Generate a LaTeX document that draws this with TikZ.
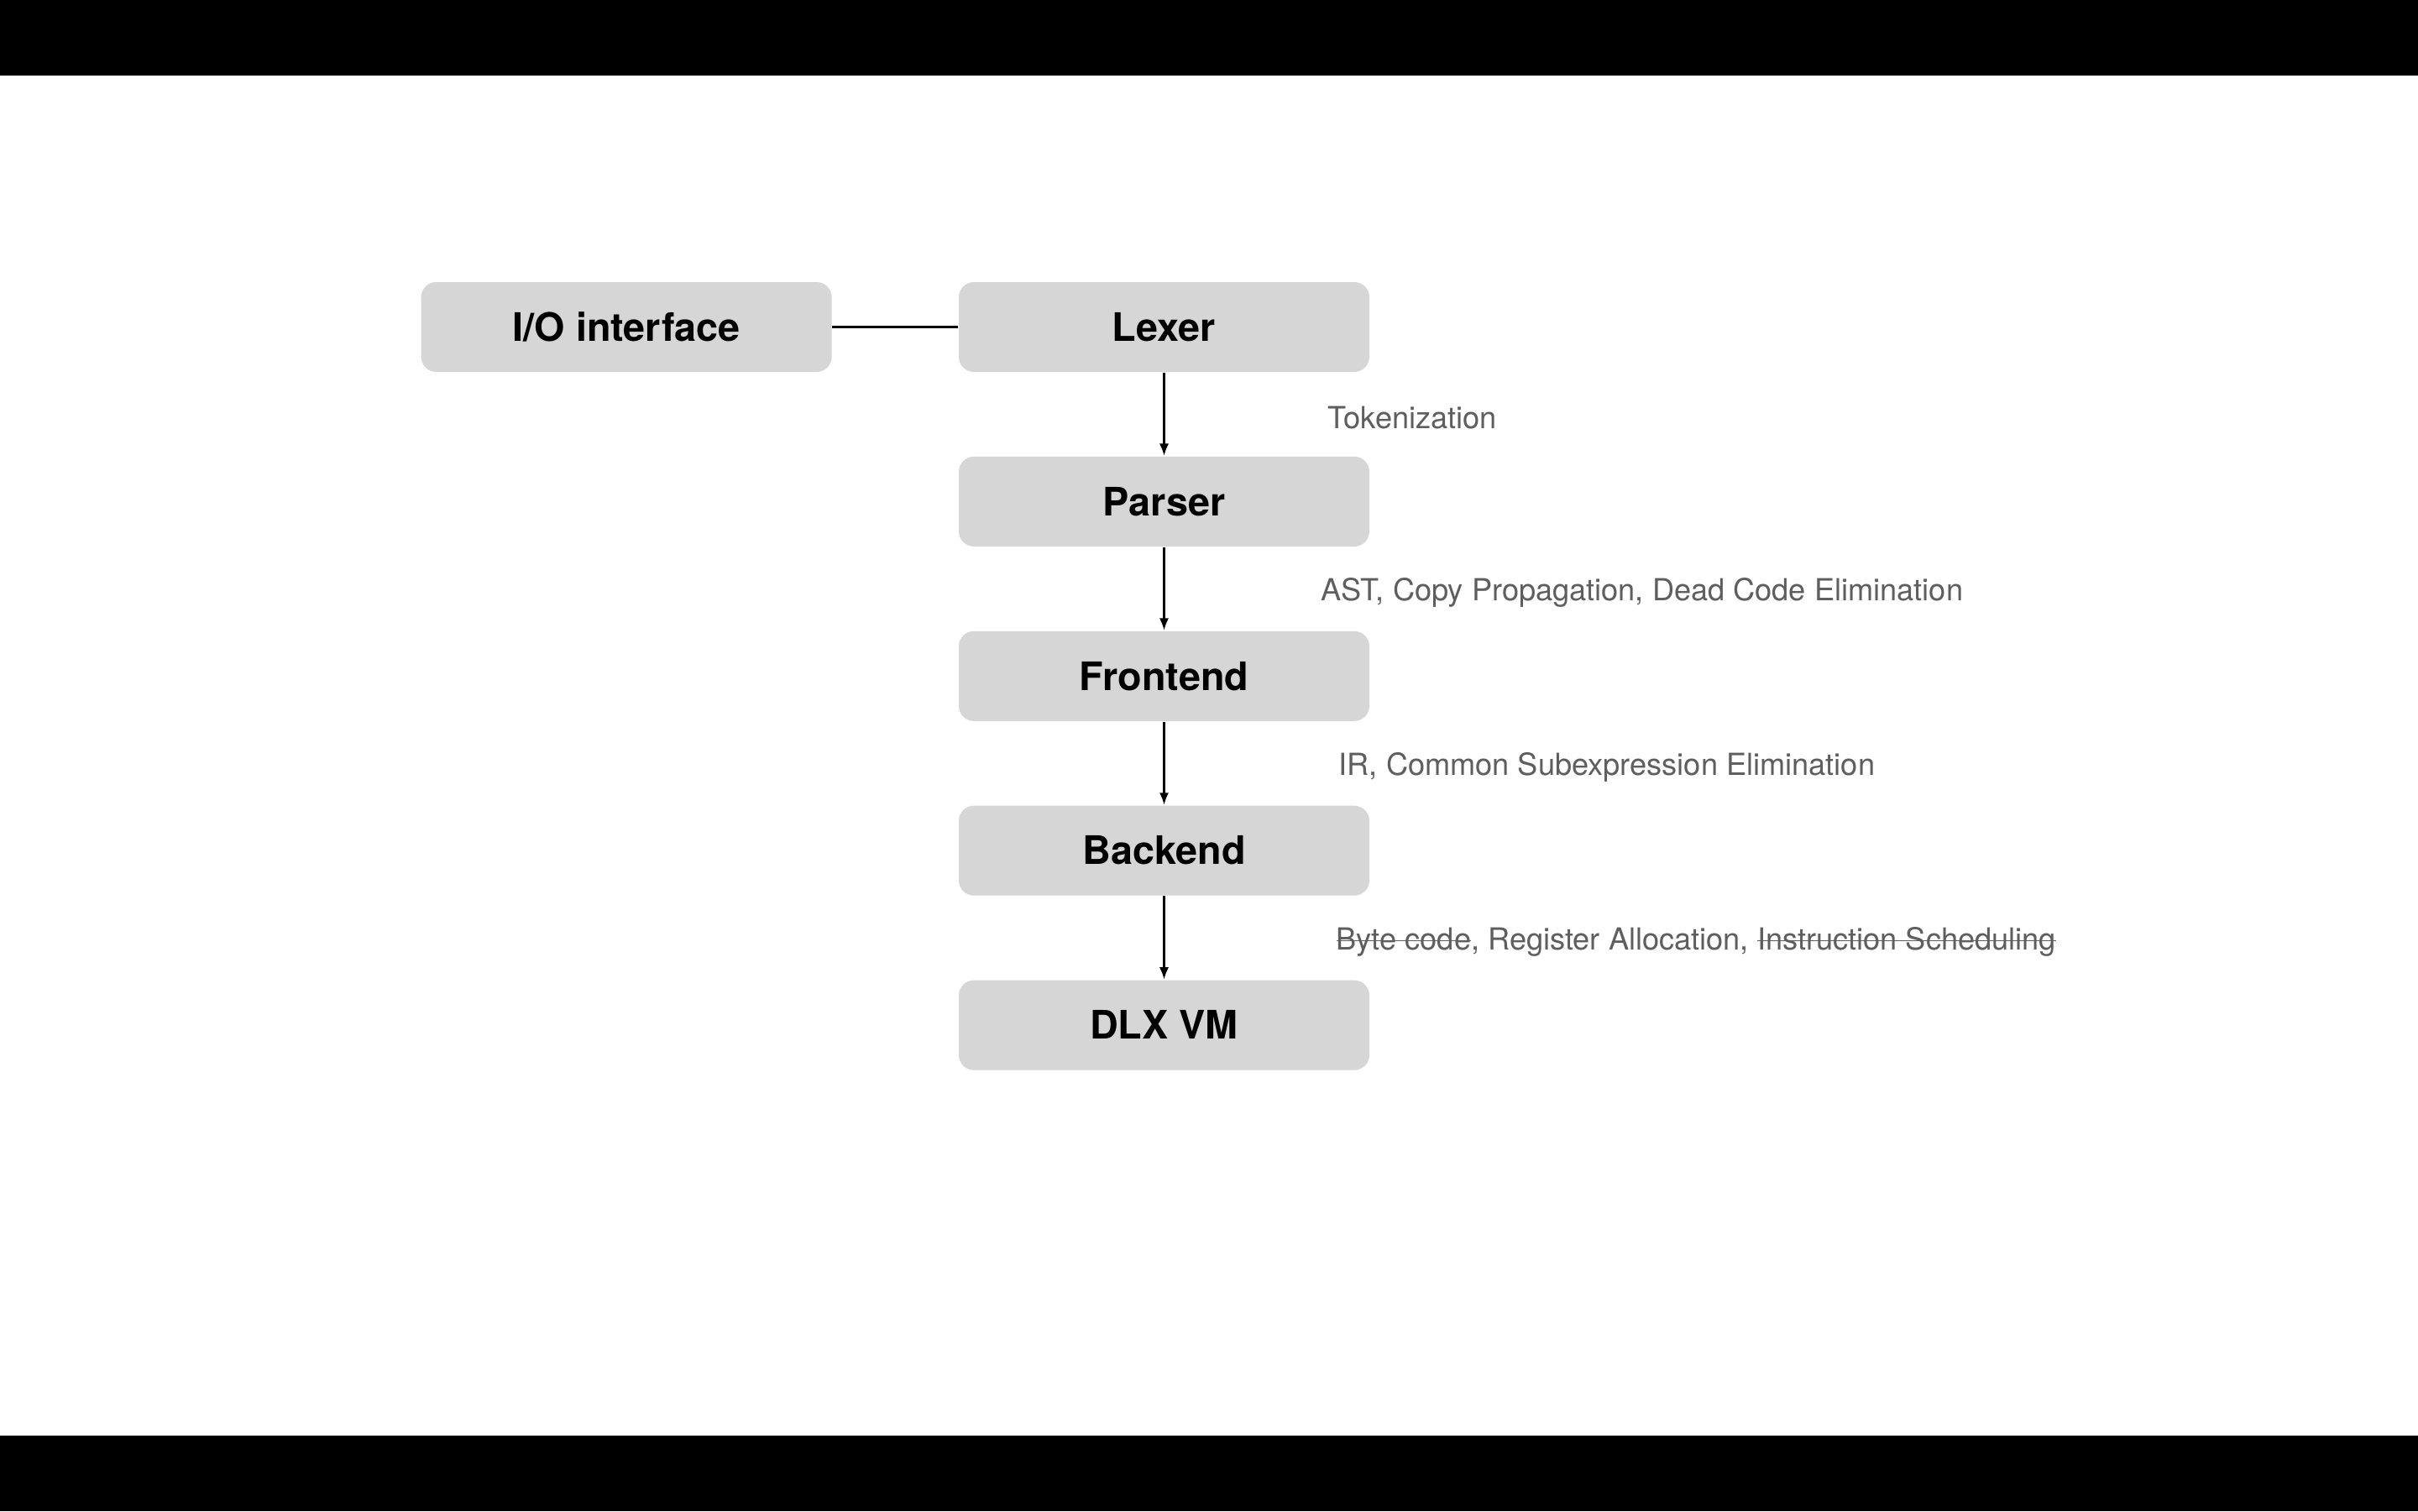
\documentclass[tikz,border=0pt]{standalone}
\usepackage{fontspec}
\setmainfont{TeX Gyre Heros}
\usepackage{tikz}
\usetikzlibrary{positioning,arrows.meta}
\definecolor{boxgray}{HTML}{D6D6D6}
\definecolor{notegray}{HTML}{5E5E5E}
\newcommand\struck[1]{\setbox0\hbox{#1}\rlap{\vrule height 0.30em depth -0.265em width \wd0}\box0}

\begin{document}
\begin{tikzpicture}[
		stage/.style={fill=boxgray, rounded corners=0.18cm, minimum width=4.89cm, minimum height=1.07cm, inner sep=0pt, text height=0.95em, text depth=0pt, font=\bfseries\fontsize{13.3}{16}\selectfont},
		note/.style={anchor=base west, inner sep=0pt, text=notegray, font=\fontsize{10.3}{12}\selectfont},
		flow/.style={line width=0.8pt, -{Latex[length=4.2pt,width=3.2pt]}},
		link/.style={line width=1pt},
		node distance=0.995cm
	]
		\useasboundingbox (0,0) rectangle (28.8,-18);
		\fill[black] (0,0) rectangle (28.8,-0.9);
		\fill[black] (0,-17.1) rectangle (28.8,-18);
		\node[stage] (lexer) at (13.865,-3.895) {Lexer};
		\node[stage, left=1.5cm of lexer] (io) {I/O interface};
		\node[stage, below=of lexer] (parser) {Parser};
		\node[stage, below=of parser] (frontend) {Frontend};
		\node[stage, below=of frontend] (backend) {Backend};
		\node[stage, below=of backend] (dlx) {DLX VM};
		\draw[link] (io) -- (lexer);
		\foreach \a/\b in {lexer/parser, parser/frontend, frontend/backend, backend/dlx}{
			\draw[flow] (\a) -- (\b);
		}
		\node[note] (tok) at (15.81,-5.10) {Tokenization};
		\node[note] (ast) at (15.725,-7.15) {AST, Copy Propagation, Dead Code Elimination};
		\node[note] (ir) at (15.94,-9.23) {IR, Common Subexpression Elimination};
		\node[note] (bc) at (15.91,-11.31) {\struck{Byte code}, Register Allocation, \struck{Instruction Scheduling}};
\end{tikzpicture}
\end{document}
